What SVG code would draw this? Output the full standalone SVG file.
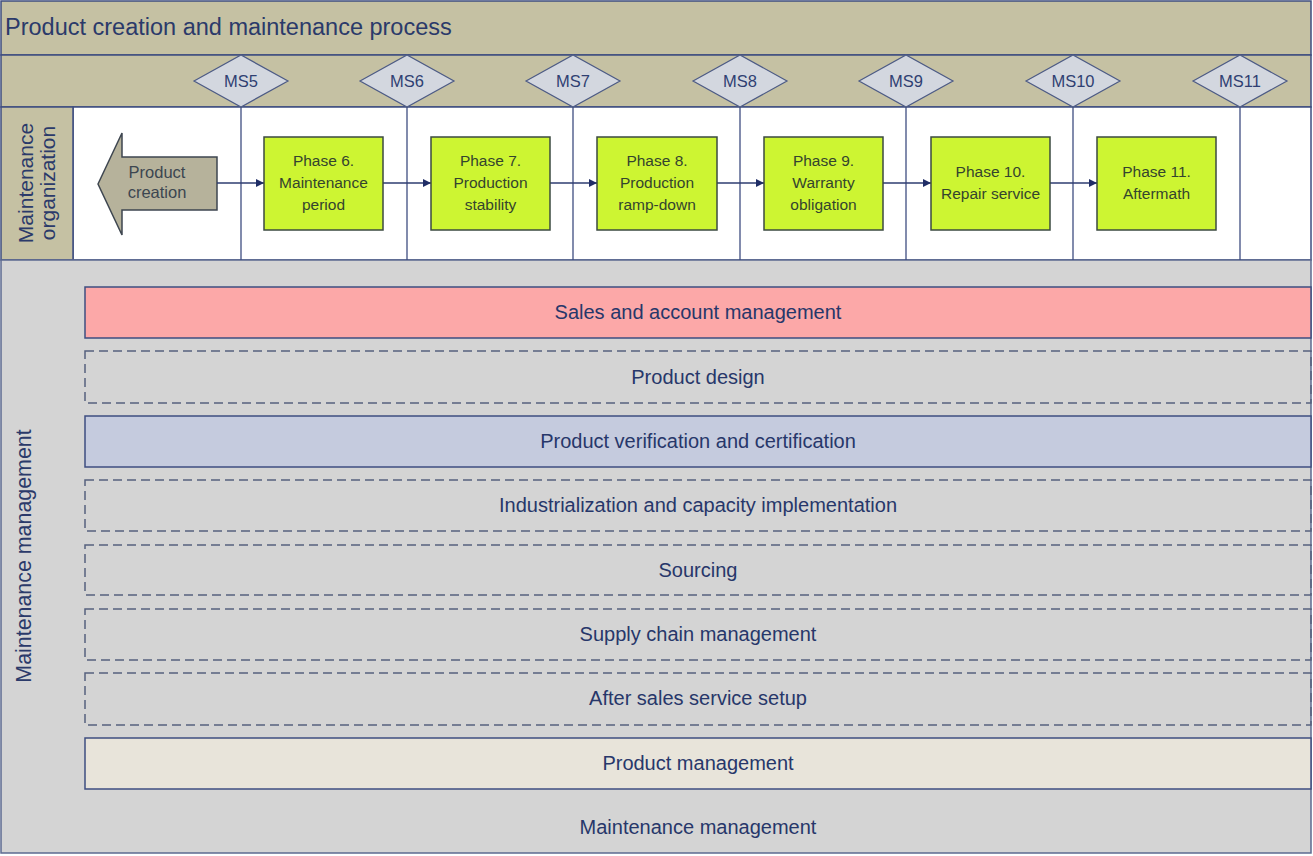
<svg xmlns="http://www.w3.org/2000/svg" width="1313" height="856" viewBox="0 0 1313 856">
<style>
text{font-family:"Liberation Sans",Arial,sans-serif}
.band{stroke:#3e4d80;stroke-width:1.5}
.dash{fill:none;stroke:#55607e;stroke-width:1.5;stroke-dasharray:9 5}
.blabel{font-size:20px;fill:#27376a;text-anchor:middle}
.phase{fill:#cdf532;stroke:#3b4a40;stroke-width:1.5}
.ptext{font-size:15.5px;fill:#34442e;text-anchor:middle}
.ms{fill:#d3d7df;stroke:#4d5b85;stroke-width:1.2}
.mstext{font-size:16.5px;fill:#2f3f72;text-anchor:middle}
.vline{stroke:#3e4d80;stroke-width:1.3}
.conn{stroke:#2e3d70;stroke-width:1.3;fill:none;marker-end:url(#ah)}
</style>
<defs>
<marker id="ah" viewBox="0 0 10 10" refX="10" refY="5" markerWidth="8" markerHeight="8" markerUnits="userSpaceOnUse" orient="auto">
<path d="M0,0 L10,5 L0,10 z" fill="#1f2d66"/>
</marker>
</defs>
<rect width="1313" height="856" fill="#ffffff"/>
<g id="title">
<rect x="1" y="1" width="1310" height="54" fill="#c5c1a3" stroke="#3e4d80" stroke-width="1.5"/>
<text x="5" y="35" font-size="23.5px" fill="#2b3a6a">Product creation and maintenance process</text>
</g>
<g id="milestone-band">
<rect x="1" y="55" width="1310" height="52" fill="#c5c1a3" stroke="#3e4d80" stroke-width="1.5"/>
</g>
<g id="org-row">
<rect x="73" y="107" width="1238" height="153" fill="#ffffff" stroke="#3e4d80" stroke-width="1.5"/>
<rect x="1" y="107" width="72" height="153" fill="#c5c1a3" stroke="#3e4d80" stroke-width="1.5"/>
<text transform="translate(33,183) rotate(-90)" font-size="21px" fill="#2b3a6a" text-anchor="middle">Maintenance</text>
<text transform="translate(55,183) rotate(-90)" font-size="21px" fill="#2b3a6a" text-anchor="middle">organization</text>
</g>
<g id="lower">
<rect x="1" y="260" width="1310" height="593" fill="#d4d4d4" stroke="#5c6a90" stroke-width="1.5"/>
<text transform="translate(31,556) rotate(-90)" font-size="21.4px" fill="#2b3a6a" text-anchor="middle">Maintenance management</text>
<text x="698" y="834" class="blabel">Maintenance management</text>
</g>
<g id="milestone-lines">
<line class="vline" x1="241" y1="107" x2="241" y2="260"/>
<line class="vline" x1="407" y1="107" x2="407" y2="260"/>
<line class="vline" x1="573" y1="107" x2="573" y2="260"/>
<line class="vline" x1="740" y1="107" x2="740" y2="260"/>
<line class="vline" x1="906" y1="107" x2="906" y2="260"/>
<line class="vline" x1="1073" y1="107" x2="1073" y2="260"/>
<line class="vline" x1="1240" y1="107" x2="1240" y2="260"/>
</g>
<g id="ms5"><path class="ms" d="M194,81 L241,55 L288,81 L241,107 z"/><text class="mstext" x="241" y="87">MS5</text></g>
<g id="ms6"><path class="ms" d="M360,81 L407,55 L454,81 L407,107 z"/><text class="mstext" x="407" y="87">MS6</text></g>
<g id="ms7"><path class="ms" d="M526,81 L573,55 L620,81 L573,107 z"/><text class="mstext" x="573" y="87">MS7</text></g>
<g id="ms8"><path class="ms" d="M693,81 L740,55 L787,81 L740,107 z"/><text class="mstext" x="740" y="87">MS8</text></g>
<g id="ms9"><path class="ms" d="M859,81 L906,55 L953,81 L906,107 z"/><text class="mstext" x="906" y="87">MS9</text></g>
<g id="ms10"><path class="ms" d="M1026,81 L1073,55 L1120,81 L1073,107 z"/><text class="mstext" x="1073" y="87">MS10</text></g>
<g id="ms11"><path class="ms" d="M1193,81 L1240,55 L1287,81 L1240,107 z"/><text class="mstext" x="1240" y="87">MS11</text></g>
<g id="product-creation">
<path d="M98,184 L122,133 L122,157 L217,157 L217,210 L122,210 L122,235 z" fill="#b6b29b" stroke="#3e4650" stroke-width="1.5"/>
<text x="157" y="178" font-size="16.5px" fill="#3c4650" text-anchor="middle">Product</text>
<text x="157" y="198" font-size="16.5px" fill="#3c4650" text-anchor="middle">creation</text>
</g>
<g id="connectors">
<line class="conn" x1="217" y1="183" x2="264" y2="183"/>
<line class="conn" x1="383" y1="183" x2="431" y2="183"/>
<line class="conn" x1="550" y1="183" x2="597" y2="183"/>
<line class="conn" x1="717" y1="183" x2="764" y2="183"/>
<line class="conn" x1="883" y1="183" x2="931" y2="183"/>
<line class="conn" x1="1050" y1="183" x2="1097" y2="183"/>
</g>
<g id="phase6"><rect class="phase" x="264" y="137" width="119" height="93"/><text class="ptext" x="323.5" y="166">Phase 6.</text><text class="ptext" x="323.5" y="188">Maintenance</text><text class="ptext" x="323.5" y="210">period</text></g>
<g id="phase7"><rect class="phase" x="431" y="137" width="119" height="93"/><text class="ptext" x="490.5" y="166">Phase 7.</text><text class="ptext" x="490.5" y="188">Production</text><text class="ptext" x="490.5" y="210">stability</text></g>
<g id="phase8"><rect class="phase" x="597" y="137" width="120" height="93"/><text class="ptext" x="657" y="166">Phase 8.</text><text class="ptext" x="657" y="188">Production</text><text class="ptext" x="657" y="210">ramp-down</text></g>
<g id="phase9"><rect class="phase" x="764" y="137" width="119" height="93"/><text class="ptext" x="823.5" y="166">Phase 9.</text><text class="ptext" x="823.5" y="188">Warranty</text><text class="ptext" x="823.5" y="210">obligation</text></g>
<g id="phase10"><rect class="phase" x="931" y="137" width="119" height="93"/><text class="ptext" x="990.5" y="177">Phase 10.</text><text class="ptext" x="990.5" y="199">Repair service</text></g>
<g id="phase11"><rect class="phase" x="1097" y="137" width="119" height="93"/><text class="ptext" x="1156.5" y="177">Phase 11.</text><text class="ptext" x="1156.5" y="199">Aftermath</text></g>
<g id="sales"><rect class="band" x="85" y="287" width="1226" height="51" fill="#fca8a8"/><text class="blabel" x="698" y="319">Sales and account management</text></g>
<g id="design"><rect class="dash" x="85" y="351" width="1226" height="52"/><text class="blabel" x="698" y="384">Product design</text></g>
<g id="verification"><rect class="band" x="85" y="416" width="1226" height="51" fill="#c5cbde"/><text class="blabel" x="698" y="448">Product verification and certification</text></g>
<g id="industrialization"><rect class="dash" x="85" y="480" width="1226" height="51"/><text class="blabel" x="698" y="512">Industrialization and capacity implementation</text></g>
<g id="sourcing"><rect class="dash" x="85" y="545" width="1226" height="50"/><text class="blabel" x="698" y="577">Sourcing</text></g>
<g id="supply"><rect class="dash" x="85" y="609" width="1226" height="51"/><text class="blabel" x="698" y="641">Supply chain management</text></g>
<g id="aftersales"><rect class="dash" x="85" y="673" width="1226" height="52"/><text class="blabel" x="698" y="705">After sales service setup</text></g>
<g id="productmgmt"><rect class="band" x="85" y="738" width="1226" height="51" fill="#e8e4da" stroke="#5c6a80"/><text class="blabel" x="698" y="770">Product management</text></g>
</svg>
